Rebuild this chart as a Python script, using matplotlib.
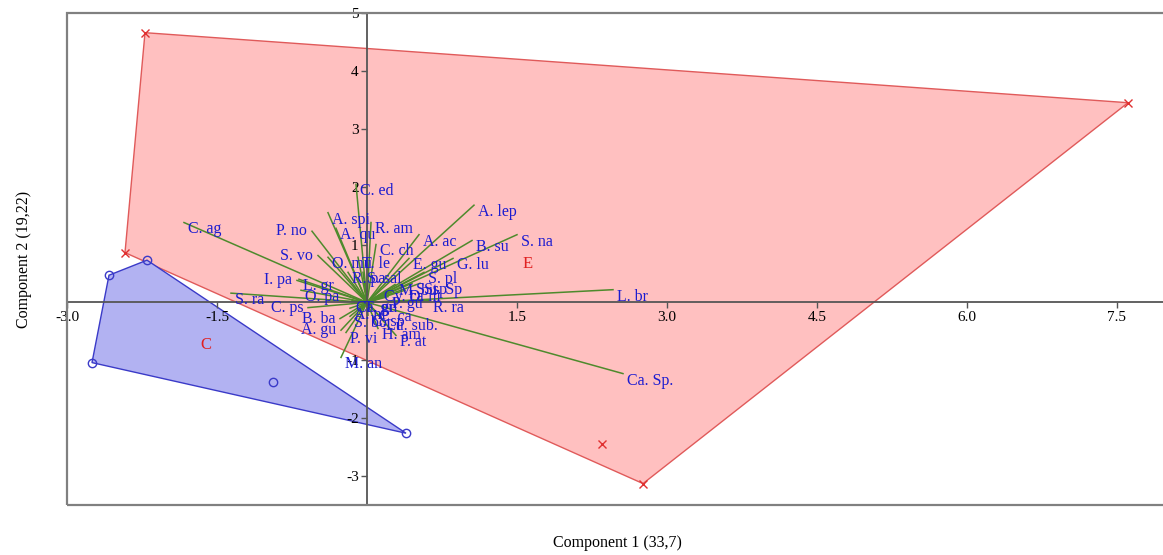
import matplotlib
matplotlib.use("Agg")
import matplotlib.pyplot as plt
from matplotlib.patches import Polygon, Rectangle

# ---- data ----
group_E_x = [-2.22, 7.61, 2.76, 2.35, -2.42]
group_E_y = [4.66, 3.45, -3.13, -2.45, 0.86]
group_C_x = [-2.20, -2.58, -2.75, 0.39, -0.94]
group_C_y = [0.73, 0.47, -1.04, -2.26, -1.38]
group_names = ["E", "C"]
group_label_x = [1.61, -1.61]
group_label_y = [0.67, -0.73]

# loadings (biplot vectors), label on right of tip
vec_names = ["C. ag", "A. lep", "S. na", "B. su", "L. br", "Ca. Sp.", "A. ac", "G. lu",
             "E. gu", "S. pl", "C. ed", "A. spi", "A. qu", "R. am", "C. ch", "O. mu",
             "T. le", "L. gr", "R. pa", "S. sal", "O. pa", "S. ra", "R. ra", "P. vi",
             "H. am", "P. at", "M. an", "S. sp", "St. Sp",
             "Ca. gu", "Cy. ca", "M. bu", "D. ni", "A. ni", "S. bo", "C. sp", "C. ca",
             "Lu. sub.", "T. gr", "P. gu"]
vec_x = [-1.83, 1.07, 1.50, 1.05, 2.46, 2.56, 0.52, 0.86,
         0.42, 0.57, -0.11, -0.39, -0.31, 0.04, 0.09, -0.39,
         -0.09, -0.68, -0.19, -0.04, -0.66, -1.36, 0.62, -0.21,
         0.11, 0.29, -0.26, 0.45, 0.53,
         -0.15, 0.13, 0.28, 0.38, -0.17, -0.17, 0.01, 0.08,
         0.15, -0.07, 0.21]
vec_y = [1.38, 1.68, 1.17, 1.07, 0.22, -1.23, 1.17, 0.76,
         0.76, 0.52, 2.04, 1.55, 1.28, 1.38, 1.00, 0.78,
         0.78, 0.40, 0.52, 0.52, 0.21, 0.16, 0.03, -0.52,
         -0.45, -0.57, -0.95, 0.33, 0.33,
         0.03, 0.21, 0.31, 0.21, -0.10, -0.24, -0.22, -0.14,
         -0.28, 0.03, 0.10]
# loadings whose label sits on the left of the tip
vecL_names = ["P. no", "S. vo", "I. pa", "C. ps", "B. ba", "A. gu"]
vecL_x = [-0.55, -0.49, -0.70, -0.59, -0.27, -0.26]
vecL_y = [1.23, 0.81, 0.38, -0.09, -0.28, -0.48]

xticks = [-3.0, -1.5, 1.5, 3.0, 4.5, 6.0, 7.5]
yticks = [-3, -2, -1, 1, 2, 3, 4, 5]
xlabel = "Component 1 (33,7)"
ylabel = "Component 2 (19,22)"


def hull(xs, ys):
    pts = sorted(set(zip(xs, ys)))
    def cross(o, a, b):
        return (a[0]-o[0])*(b[1]-o[1]) - (a[1]-o[1])*(b[0]-o[0])
    lower, upper = [], []
    for p in pts:
        while len(lower) >= 2 and cross(lower[-2], lower[-1], p) <= 0:
            lower.pop()
        lower.append(p)
    for p in reversed(pts):
        while len(upper) >= 2 and cross(upper[-2], upper[-1], p) <= 0:
            upper.pop()
        upper.append(p)
    return lower[:-1] + upper[:-1]


W, H = 1163, 555
fig = plt.figure(figsize=(W/100, H/100), dpi=100)
ax = fig.add_axes([67/W, 1-505/H, 1-67/W, 492/H])
ax.set_xlim(-3.0, 7.96)
ax.set_ylim(-3.5, 5.0)

serif = ["Liberation Serif", "DejaVu Serif"]

# groups
ax.add_patch(Polygon(hull(group_E_x, group_E_y), closed=True, facecolor="#ffc0c0",
                     edgecolor="#e05a5a", lw=1.0, zorder=1))
ax.add_patch(Polygon(hull(group_C_x, group_C_y), closed=True, facecolor="#b2b2f2",
                     edgecolor="#3a3ac8", lw=1.0, zorder=1))
ax.plot(group_E_x, group_E_y, ls="none", marker="x", color="#e03030", ms=6, mew=1.0, zorder=3)
ax.plot(group_C_x, group_C_y, ls="none", marker="o", mfc="none", mec="#3a3ac8", ms=6,
        mew=1.0, zorder=3)
for n, gx, gy in zip(group_names, group_label_x, group_label_y):
    ax.text(gx, gy, n, color="#e02020", fontsize=12, ha="center", va="center",
            family=serif, zorder=5)

green = "#4e8a2c"
blue = "#1c1cd0"
for n, vx, vy in zip(vec_names, vec_x, vec_y):
    ax.plot([0, vx], [0, vy], color=green, lw=1.1, zorder=2)
    ax.annotate(n, (vx, vy), xytext=(3, -5), textcoords="offset points",
                ha="left", va="center", color=blue, fontsize=11.5, family=serif, zorder=6)
for n, vx, vy in zip(vecL_names, vecL_x, vecL_y):
    ax.plot([0, vx], [0, vy], color=green, lw=1.1, zorder=2)
    ax.annotate(n, (vx, vy), xytext=(-3.5, 0), textcoords="offset points",
                ha="right", va="center", color=blue, fontsize=11.5, family=serif, zorder=6)

# axes at zero
for s in ["top", "right"]:
    ax.spines[s].set_visible(False)
ax.spines["left"].set_position(("data", 0))
ax.spines["bottom"].set_position(("data", 0))
for s in ["left", "bottom"]:
    ax.spines[s].set_color("#555555")
    ax.spines[s].set_linewidth(1.3)
    ax.spines[s].set_zorder(2.5)
ax.add_patch(Rectangle((0, 0), 1.2, 1, transform=ax.transAxes, fill=False,
                       edgecolor="#808080", lw=1.6, clip_on=False, zorder=2.6))

ax.set_xticks(xticks)
ax.set_xticklabels([f"{t:.1f}" for t in xticks])
ax.set_yticks(yticks)
ax.set_yticklabels([str(t) for t in yticks])
ax.tick_params(direction="out", length=4, width=1, color="#555555", labelsize=11,
               pad=2)
for lab in ax.get_xticklabels() + ax.get_yticklabels():
    lab.set_family(serif)

fig.text(617/W, 1-543/H, xlabel, ha="center", va="center", fontsize=11.5, family=serif)
fig.text(24/W, 1-259/H, ylabel, ha="center", va="center", rotation=90, fontsize=11.5,
         family=serif)

fig.savefig("out.png", dpi=100)
